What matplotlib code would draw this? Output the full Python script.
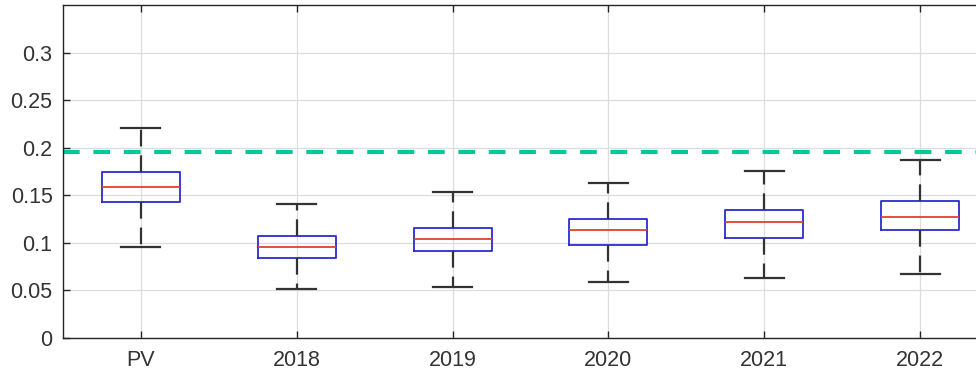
import matplotlib.pyplot as plt

labels = ['PV', '2018', '2019', '2020', '2021', '2022']
whislo = [0.096, 0.051, 0.054, 0.059, 0.063, 0.067]
q1 = [0.143, 0.084, 0.091, 0.098, 0.105, 0.113]
med = [0.159, 0.096, 0.104, 0.113, 0.122, 0.127]
q3 = [0.175, 0.107, 0.116, 0.125, 0.135, 0.144]
whishi = [0.221, 0.141, 0.153, 0.163, 0.176, 0.187]
threshold = 0.195

plt.rcParams['font.family'] = ['Liberation Sans', 'DejaVu Sans']

stats = []
for i in range(len(labels)):
    stats.append(dict(label=labels[i], whislo=whislo[i], q1=q1[i], med=med[i],
                      q3=q3[i], whishi=whishi[i], fliers=[]))

fig = plt.figure(figsize=(9.76, 3.76), dpi=100)
# axes run a little past the right edge of the figure
ax = fig.add_axes([63 / 976, 38 / 376, 935 / 976, 333 / 376])

ax.bxp(stats, positions=range(1, len(labels) + 1), widths=0.5, capwidths=0.25,
       boxprops=dict(color='#2b2bd0', linewidth=1.3),
       medianprops=dict(color='#e04030', linewidth=1.3),
       whiskerprops=dict(color='#333333', linewidth=1.6, linestyle=(0, (7.5, 4))),
       capprops=dict(color='#333333', linewidth=1.6))

ax.axhline(threshold, color='#00c896', linewidth=3, linestyle=(0, (4, 3.3)))

ax.set_xlim(0.5, 6.5)
ax.set_ylim(0, 0.35)
ax.set_yticks([0, 0.05, 0.1, 0.15, 0.2, 0.25, 0.3])
ax.set_yticklabels(['0', '0.05', '0.1', '0.15', '0.2', '0.25', '0.3'])
ax.grid(True, color='#dddddd', linewidth=0.9)
ax.set_axisbelow(True)
ax.tick_params(direction='in', top=True, right=True, labelsize=15.5,
               labelcolor='#333333', colors='#262626', length=5, width=1)
ax.tick_params(axis='y', pad=7.5)
ax.tick_params(axis='x', pad=9)
for s in ax.spines.values():
    s.set_color('#262626')
    s.set_linewidth(1)

fig.savefig('out.png', dpi=100)
